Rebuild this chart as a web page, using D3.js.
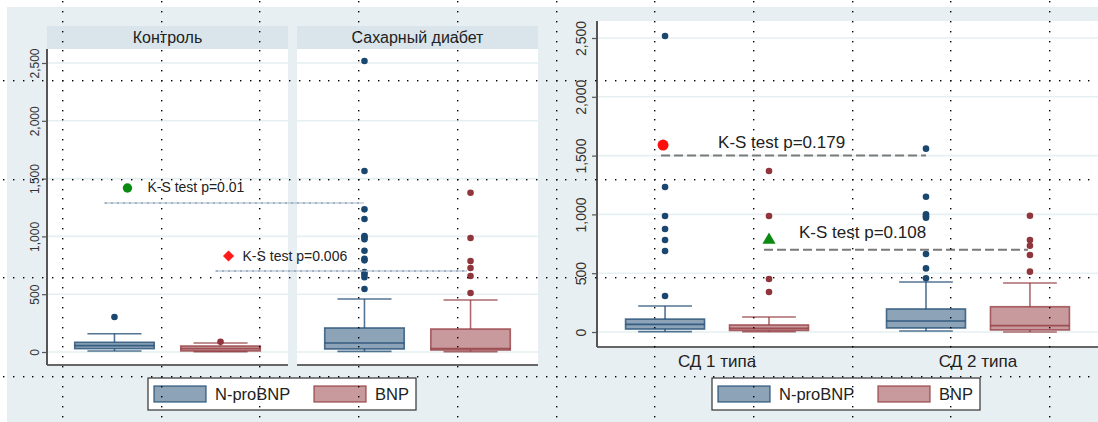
<!DOCTYPE html>
<html>
<head>
<meta charset="utf-8">
<script src="https://cdn.jsdelivr.net/npm/d3@7"></script>
<style>
  body { margin: 0; background: #fff; }
  svg { display: block; font-family: "Liberation Sans", Arial, sans-serif; }
</style>
</head>
<body>
<svg id="chart" width="1098" height="422"></svg>
<script>
const width = 1098;
const height = 422;

const seriesNames = ["N-proBNP", "BNP"];
const panelNames = ["Контроль", "Сахарный диабет"];
const groupNames = ["СД 1 типа", "СД 2 типа"];
const yTicks = [0, 500, 1000, 1500, 2000, 2500];

// box stats: [lower adjacent, q1, median, q3, upper adjacent]
const controlNt = [9, 29, 55, 84, 158];
const controlBnp = [2, 9, 29, 52, 78];
const diabetesNt = [5, 26, 78, 208, 458];
const diabetesBnp = [3, 17, 30, 199, 450];
const sd1Nt = [3, 25, 65, 110, 221];
const sd1Bnp = [2, 13, 31, 60, 128];
const sd2Nt = [8, 34, 94, 196, 425];
const sd2Bnp = [0, 17, 54, 215, 417];

// outside values
const controlNtOut = [303];
const controlBnpOut = [89];
const diabetesNtOut = [2517, 1566, 1234, 1150, 1003, 992, 975, 876, 807, 793, 692, 672, 646, 545];
const diabetesBnpOut = [1377, 986, 787, 727, 657, 510];
const sd1NtOut = [2517, 1233, 986, 876, 782, 689, 306];
const sd1BnpOut = [1369, 986, 451, 340];
const sd2NtOut = [1559, 1150, 1001, 985, 972, 663, 541, 456];
const sd2BnpOut = [989, 782, 734, 655, 513];

// K-S test annotations
const ksLabelsLeft = ["K-S test p=0.01", "K-S test p=0.006"];
const ksLineLeft = [1290, 700];
const ksMarkLeft = [1419, 830];
const ksLabelsRight = ["K-S test p=0.179", "K-S test p=0.108"];
const ksLineRight = [1500, 700];
const ksMarkRight = [1590, 782];

const lineColors = ["#1a476f", "#90353b"];
const fillColors = ["#8ca3b8", "#c89a9d"];
const bg = "#e8eff2";

const svg = d3.select("#chart");

svg.append("rect").attr("width", width).attr("height", height).attr("fill", "#fff");
svg.append("rect")
  .attr("x", 7).attr("y", 7)
  .attr("width", width - 7).attr("height", height - 7)
  .attr("fill", bg);

function drawBox(g, cx, stats, outs, y, boxW, i) {
  const [lo, q1, med, q3, hi] = stats;
  const capW = boxW * 0.68;
  const s = g.append("g")
    .attr("stroke", lineColors[i])
    .attr("stroke-opacity", 0.75)
    .attr("stroke-width", 1.6);
  s.append("line").attr("x1", cx).attr("x2", cx).attr("y1", y(q3)).attr("y2", y(hi));
  s.append("line").attr("x1", cx).attr("x2", cx).attr("y1", y(q1)).attr("y2", y(lo));
  s.append("line").attr("x1", cx - capW / 2).attr("x2", cx + capW / 2).attr("y1", y(hi)).attr("y2", y(hi));
  s.append("line").attr("x1", cx - capW / 2).attr("x2", cx + capW / 2).attr("y1", y(lo)).attr("y2", y(lo));
  s.append("rect")
    .attr("x", cx - boxW / 2).attr("width", boxW)
    .attr("y", y(q3)).attr("height", y(q1) - y(q3))
    .attr("fill", fillColors[i]);
  s.append("line").attr("x1", cx - boxW / 2).attr("x2", cx + boxW / 2).attr("y1", y(med)).attr("y2", y(med));
  g.append("g")
    .selectAll("circle")
    .data(outs)
    .join("circle")
    .attr("cx", cx)
    .attr("cy", d => y(d))
    .attr("r", 3.3)
    .attr("fill", lineColors[i]);
}

function drawYAxis(g, y, x, top, bottom, fontSize, labelGap) {
  const ax = g.append("g")
    .attr("transform", `translate(${x},0)`)
    .call(d3.axisLeft(y).tickValues(yTicks).tickFormat(d3.format(",")).tickSize(5));
  ax.select(".domain").remove();
  ax.selectAll(".tick line").attr("stroke", "#555").attr("stroke-width", 1.2);
  ax.selectAll(".tick text")
    .attr("transform", "rotate(-90)")
    .attr("x", 0)
    .attr("y", -labelGap)
    .attr("dy", 0)
    .attr("text-anchor", "middle")
    .attr("fill", "#333")
    .style("font-size", fontSize + "px")
    .style("font-family", "Liberation Sans, Arial, sans-serif");
  g.append("line")
    .attr("x1", x).attr("x2", x)
    .attr("y1", top).attr("y2", bottom)
    .attr("stroke", "#555").attr("stroke-width", 2);
}

function drawLegend(x, y) {
  const lg = svg.append("g").attr("transform", `translate(${x},${y})`);
  lg.append("rect")
    .attr("width", 268).attr("height", 32)
    .attr("fill", "#fff").attr("stroke", "#333").attr("stroke-width", 1.2);
  const item = lg.selectAll("g.item")
    .data(seriesNames)
    .join("g")
    .attr("class", "item")
    .attr("transform", (d, i) => `translate(${6 + i * 160},0)`);
  item.append("rect")
    .attr("y", 8).attr("width", 52).attr("height", 16)
    .attr("fill", (d, i) => fillColors[i])
    .attr("stroke", (d, i) => lineColors[i])
    .attr("stroke-opacity", 0.75)
    .attr("stroke-width", 1.4);
  item.append("text")
    .attr("x", 61).attr("y", 22)
    .attr("fill", "#222")
    .style("font-size", "16.5px")
    .text(d => d);
}

// ---------- left graph: by panel ----------
const yL = d3.scaleLinear([0, 2500], [352, 63]);
const leftTop = 49;
const leftBottom = 365;
const headTop = 26;
const panelX = d3.scaleBand(panelNames, [47, 538]).paddingInner(0.036);
const innerX = name =>
  d3.scalePoint(seriesNames, [panelX(name), panelX(name) + panelX.bandwidth()]).padding(0.636);

const leftStats = [
  [[controlNt, controlNtOut], [controlBnp, controlBnpOut]],
  [[diabetesNt, diabetesNtOut], [diabetesBnp, diabetesBnpOut]]
];

const left = svg.append("g");
panelNames.forEach((name, p) => {
  const x0 = panelX(name);
  const bw = panelX.bandwidth();
  left.append("rect")
    .attr("x", x0).attr("y", headTop)
    .attr("width", bw).attr("height", leftTop - headTop)
    .attr("fill", "#d9e5eb");
  left.append("text")
    .attr("x", x0 + bw / 2).attr("y", 43)
    .attr("text-anchor", "middle")
    .attr("fill", "#222")
    .style("font-size", "16px")
    .text(name);
  left.append("rect")
    .attr("x", x0).attr("y", leftTop)
    .attr("width", bw).attr("height", leftBottom - leftTop)
    .attr("fill", "#fff");
  left.append("g")
    .selectAll("line")
    .data(yTicks)
    .join("line")
    .attr("x1", x0).attr("x2", x0 + bw)
    .attr("y1", d => yL(d)).attr("y2", d => yL(d))
    .attr("stroke", "#e6eff1").attr("stroke-width", 1.6);
  left.append("line")
    .attr("x1", x0).attr("x2", x0 + bw)
    .attr("y1", leftBottom).attr("y2", leftBottom)
    .attr("stroke", "#666").attr("stroke-width", 2);
  const ix = innerX(name);
  seriesNames.forEach((s, i) => {
    drawBox(left, ix(s), leftStats[p][i][0], leftStats[p][i][1], yL, bw * 0.33, i);
  });
});
drawYAxis(left, yL, 47, leftTop, leftBottom, 12, 8);

// K-S annotations, left
const ixC = innerX(panelNames[0]);
const ixD = innerX(panelNames[1]);
const ksLeftLines = [
  [ixC(seriesNames[0]) - 10, ixD(seriesNames[0]) - 1],
  [ixC(seriesNames[1]) - 5, ixD(seriesNames[1]) - 4]
];
ksLeftLines.forEach((xs, i) => {
  left.append("line")
    .attr("x1", xs[0]).attr("x2", xs[1])
    .attr("y1", yL(ksLineLeft[i])).attr("y2", yL(ksLineLeft[i]))
    .attr("stroke", "#a3b4c6").attr("stroke-width", 2)
    .attr("stroke-dasharray", "3 1 1 1");
});
const mg1 = [ixC(seriesNames[0]) + 13, yL(ksMarkLeft[0])];
left.append("circle").attr("cx", mg1[0]).attr("cy", mg1[1]).attr("r", 4.7).attr("fill", "#0b8a12");
left.append("text")
  .attr("x", mg1[0] + 20).attr("y", mg1[1] + 4.5)
  .attr("fill", "#222").style("font-size", "14px")
  .text(ksLabelsLeft[0]);
const mr1 = [ixC(seriesNames[1]) + 8, yL(ksMarkLeft[1])];
left.append("path")
  .attr("transform", `translate(${mr1[0]},${mr1[1]}) rotate(45)`)
  .attr("d", d3.symbol(d3.symbolSquare, 62)())
  .attr("fill", "#ff1a1a");
left.append("text")
  .attr("x", mr1[0] + 14).attr("y", mr1[1] + 4.5)
  .attr("fill", "#222").style("font-size", "14px")
  .text(ksLabelsLeft[1]);

drawLegend(148, 378);

// ---------- right graph: over type ----------
const yR = d3.scaleLinear([0, 2500], [332, 38]);
const rightTop = 21;
const rightBottom = 347;
const rx0 = 597;
const rx1 = 1098;
const groupX = d3.scalePoint(groupNames, [rx0, rx1]).padding(0.46);
const seriesOff = d3.scalePoint(seriesNames, [-groupX.step() / 2, groupX.step() / 2]).padding(0.755);

const rightStats = [
  [[sd1Nt, sd1NtOut], [sd1Bnp, sd1BnpOut]],
  [[sd2Nt, sd2NtOut], [sd2Bnp, sd2BnpOut]]
];

const right = svg.append("g");
right.append("rect")
  .attr("x", rx0).attr("y", rightTop)
  .attr("width", rx1 - rx0).attr("height", rightBottom - rightTop)
  .attr("fill", "#fff");
right.append("g")
  .selectAll("line")
  .data(yTicks)
  .join("line")
  .attr("x1", rx0).attr("x2", rx1)
  .attr("y1", d => yR(d)).attr("y2", d => yR(d))
  .attr("stroke", "#e6eff1").attr("stroke-width", 1.6);
right.append("line")
  .attr("x1", rx0).attr("x2", rx1)
  .attr("y1", rightBottom).attr("y2", rightBottom)
  .attr("stroke", "#666").attr("stroke-width", 2);

groupNames.forEach((gname, gi) => {
  seriesNames.forEach((s, i) => {
    drawBox(right, groupX(gname) + seriesOff(s), rightStats[gi][i][0], rightStats[gi][i][1], yR, 79, i);
  });
  right.append("text")
    .attr("x", groupX(gname)).attr("y", 367)
    .attr("text-anchor", "middle")
    .attr("fill", "#222")
    .style("font-size", "17px")
    .text(gname);
});
drawYAxis(right, yR, rx0, rightTop, rightBottom, 14, 11);

// K-S annotations, right
const px = (g, s) => groupX(groupNames[g]) + seriesOff(seriesNames[s]);
const ksRightLines = [
  [px(0, 0) - 4, px(1, 0)],
  [px(0, 1) - 5, px(1, 1) - 2]
];
ksRightLines.forEach((xs, i) => {
  right.append("line")
    .attr("x1", xs[0]).attr("x2", xs[1])
    .attr("y1", yR(ksLineRight[i])).attr("y2", yR(ksLineRight[i]))
    .attr("stroke", "#7a7a7a").attr("stroke-width", 2)
    .attr("stroke-dasharray", "9 4");
});
const mr2 = [px(0, 0) - 2, yR(ksMarkRight[0])];
right.append("circle").attr("cx", mr2[0]).attr("cy", mr2[1]).attr("r", 5.5).attr("fill", "#ff0d0d");
right.append("text")
  .attr("x", mr2[0] + 55).attr("y", mr2[1] + 3)
  .attr("fill", "#222").style("font-size", "17px")
  .text(ksLabelsRight[0]);
const mg2 = [px(0, 1), yR(ksMarkRight[1])];
right.append("path")
  .attr("transform", `translate(${mg2[0]},${mg2[1]})`)
  .attr("d", d3.symbol(d3.symbolTriangle, 75)())
  .attr("fill", "#0b8a12");
right.append("text")
  .attr("x", mg2[0] + 30).attr("y", mg2[1] - 2)
  .attr("fill", "#222").style("font-size", "17px")
  .text(ksLabelsRight[1]);

drawLegend(712, 378);

// ---------- dotted guide grid over the picture ----------
const gridStep = 98.7;
const dotStep = gridStep / 10;
const colX = d3.range(0, 11).map(k => 62 + k * gridStep);
const rowY = d3.range(0, 4).map(k => 80 + k * gridStep);
const dotsY = d3.range(-8, 35).map(j => 80 + j * dotStep).filter(v => v >= 0 && v <= height);
const dotsX = d3.range(-7, 105).map(j => 62 + j * dotStep).filter(v => v >= 0 && v <= width);
const dots = [];
colX.forEach(x => dotsY.forEach(y => dots.push([x, y])));
rowY.forEach(y => dotsX.forEach(x => dots.push([x, y])));
svg.append("g")
  .selectAll("rect")
  .data(dots)
  .join("rect")
  .attr("x", d => Math.round(d[0]))
  .attr("y", d => Math.round(d[1]))
  .attr("width", 1.4).attr("height", 1.4)
  .attr("fill", "#000");
</script>
</body>
</html>
